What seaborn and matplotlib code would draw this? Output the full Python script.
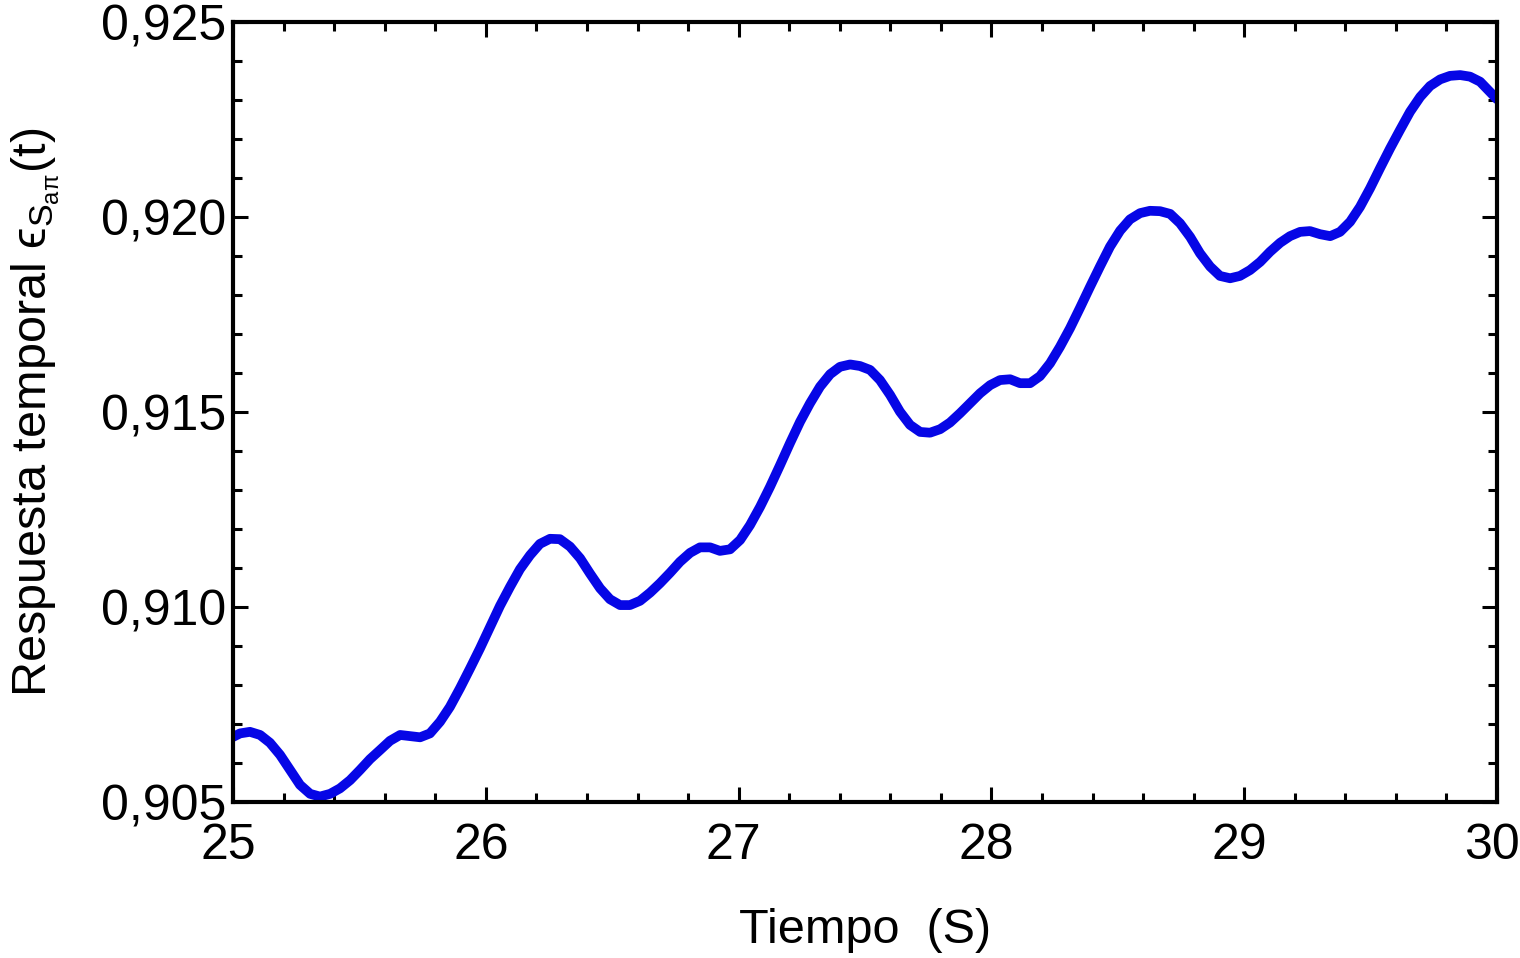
import numpy as np
import pandas as pd
import matplotlib
matplotlib.use("Agg")
import matplotlib.pyplot as plt
import matplotlib.transforms as mtransforms
from matplotlib.ticker import MultipleLocator, FuncFormatter
import seaborn as sns

# time samples (s)
tiempo = [
    25.000, 25.028, 25.067, 25.107, 25.146, 25.186, 25.226, 25.265, 25.305, 25.344,
    25.384, 25.423, 25.463, 25.502, 25.542, 25.581, 25.621, 25.661, 25.700, 25.740,
    25.779, 25.819, 25.858, 25.898, 25.938, 25.977, 26.017, 26.056, 26.096, 26.135,
    26.175, 26.214, 26.254, 26.293, 26.333, 26.373, 26.412, 26.452, 26.491, 26.531,
    26.570, 26.610, 26.650, 26.689, 26.729, 26.768, 26.808, 26.847, 26.887, 26.926,
    26.966, 27.006, 27.045, 27.085, 27.124, 27.164, 27.203, 27.243, 27.282, 27.322,
    27.362, 27.401, 27.441, 27.480, 27.520, 27.559, 27.599, 27.638, 27.678, 27.718,
    27.757, 27.797, 27.836, 27.876, 27.915, 27.955, 27.995, 28.034, 28.074, 28.113,
    28.153, 28.192, 28.232, 28.271, 28.311, 28.351, 28.390, 28.430, 28.469, 28.509,
    28.548, 28.588, 28.627, 28.667, 28.707, 28.746, 28.786, 28.825, 28.865, 28.904,
    28.944, 28.983, 29.023, 29.063, 29.102, 29.142, 29.181, 29.221, 29.260, 29.300,
    29.340, 29.379, 29.419, 29.458, 29.498, 29.537, 29.577, 29.616, 29.656, 29.696,
    29.735, 29.775, 29.814, 29.854, 29.893, 29.933, 29.972, 30.000,
]

respuesta = [
    0.90667, 0.90676, 0.90680, 0.90672, 0.90652, 0.90621, 0.90582, 0.90544, 0.90521, 0.90514,
    0.90521, 0.90535, 0.90556, 0.90582, 0.90610, 0.90633, 0.90657, 0.90672, 0.90669, 0.90666,
    0.90676, 0.90706, 0.90744, 0.90792, 0.90843, 0.90894, 0.90949, 0.91003, 0.91052, 0.91097,
    0.91133, 0.91162, 0.91175, 0.91174, 0.91155, 0.91125, 0.91086, 0.91048, 0.91020, 0.91005,
    0.91005, 0.91016, 0.91037, 0.91061, 0.91088, 0.91116, 0.91139, 0.91153, 0.91153, 0.91144,
    0.91148, 0.91172, 0.91210, 0.91257, 0.91308, 0.91364, 0.91420, 0.91475, 0.91522, 0.91565,
    0.91597, 0.91616, 0.91622, 0.91618, 0.91608, 0.91582, 0.91544, 0.91501, 0.91467, 0.91449,
    0.91447, 0.91456, 0.91473, 0.91497, 0.91522, 0.91548, 0.91569, 0.91582, 0.91584, 0.91574,
    0.91574, 0.91592, 0.91625, 0.91667, 0.91715, 0.91768, 0.91821, 0.91874, 0.91924, 0.91965,
    0.91994, 0.92010, 0.92016, 0.92015, 0.92008, 0.91984, 0.91949, 0.91907, 0.91873, 0.91849,
    0.91843, 0.91849, 0.91864, 0.91885, 0.91911, 0.91934, 0.91951, 0.91962, 0.91964, 0.91956,
    0.91951, 0.91962, 0.91988, 0.92026, 0.92074, 0.92125, 0.92176, 0.92223, 0.92270, 0.92308,
    0.92336, 0.92353, 0.92362, 0.92364, 0.92360, 0.92347, 0.92321, 0.92302,
]

x_ticks = [25, 26, 27, 28, 29, 30]
y_ticks = [0.905, 0.910, 0.915, 0.920, 0.925]

df = pd.DataFrame({"t": tiempo, "eps": respuesta})

sns.set_theme(style="ticks")
plt.rcParams["font.family"] = ["Liberation Sans", "DejaVu Sans"]
plt.rcParams["mathtext.fontset"] = "custom"
plt.rcParams["mathtext.rm"] = "Liberation Sans"
plt.rcParams["mathtext.it"] = "Liberation Sans"
plt.rcParams["mathtext.sf"] = "Liberation Sans"
plt.rcParams["mathtext.fallback"] = "stixsans"
plt.rcParams["axes.labelcolor"] = "black"
plt.rcParams["text.color"] = "black"

fig = plt.figure(figsize=(15.2, 9.58), dpi=100)
ax = fig.add_axes([0.1533, 0.1628, 0.8316, 0.8142])

sns.lineplot(data=df, x="t", y="eps", ax=ax, color="#0606E6",
             linewidth=7, sort=False, estimator=None)

ax.set_xlim(25, 30)
ax.set_ylim(0.905, 0.925)
ax.set_xticks(x_ticks)
ax.set_yticks(y_ticks)
ax.xaxis.set_minor_locator(MultipleLocator(0.2))
ax.yaxis.set_minor_locator(MultipleLocator(0.001))
ax.yaxis.set_major_formatter(FuncFormatter(lambda v, p: f"{v:.3f}".replace(".", ",")))
ax.xaxis.set_major_formatter(FuncFormatter(lambda v, p: f"{v:.0f}"))

ax.tick_params(which="both", direction="in", top=True, right=True,
               width=2.2, colors="black", labelsize=36)
ax.tick_params(which="major", length=11)
ax.tick_params(which="minor", length=6.5)
ax.tick_params(axis="x", which="major", pad=15)
ax.tick_params(axis="y", which="major", pad=5)

# nudge x tick labels slightly left, as in the original
shift = mtransforms.ScaledTranslation(-5 / 100, 0, fig.dpi_scale_trans)
for lbl in ax.get_xticklabels():
    lbl.set_transform(lbl.get_transform() + shift)

for s in ax.spines.values():
    s.set_linewidth(3)
    s.set_color("black")

ax.set_xlabel("Tiempo  (S)", fontsize=35, labelpad=28)
ax.set_ylabel("Respuesta temporal $\u03f5_{S_{a\\pi}}$(t)", fontsize=35, labelpad=28)

fig.savefig("out.png", dpi=100)
